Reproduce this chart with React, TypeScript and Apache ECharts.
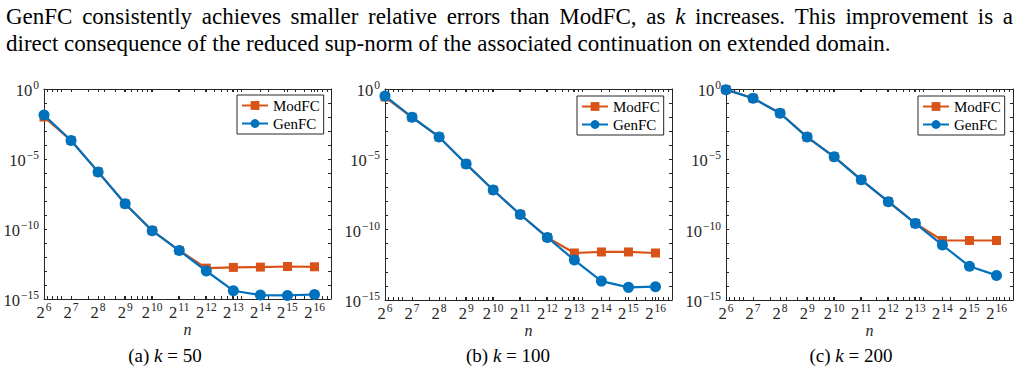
import React, { useEffect, useRef } from "react";
import * as echarts from "echarts";

// n = 2^e, e = 6..16
const exponents = [6, 7, 8, 9, 10, 11, 12, 13, 14, 15, 16];

// relative errors, k = 50
const modfcK50 = [1.0e-2, 2.1e-4, 1.2e-6, 6.3e-9, 7.6e-11, 2.9e-12, 1.6e-13, 1.8e-13, 1.9e-13, 2.1e-13, 2.0e-13];
const genfcK50 = [1.4e-2, 2.1e-4, 1.2e-6, 6.3e-9, 7.6e-11, 2.9e-12, 1.0e-13, 3.9e-15, 1.9e-15, 1.8e-15, 2.1e-15];

// relative errors, k = 100
const modfcK100 = [0.27, 9.8e-3, 3.9e-4, 4.7e-6, 6.6e-8, 1.2e-9, 2.8e-11, 2.2e-12, 2.6e-12, 2.6e-12, 2.2e-12];
const genfcK100 = [0.32, 9.8e-3, 3.9e-4, 4.7e-6, 6.6e-8, 1.2e-9, 2.8e-11, 6.9e-13, 2.2e-14, 7.9e-15, 8.9e-15];

// relative errors, k = 200
const modfcK200 = [0.9, 0.22, 1.9e-2, 3.8e-4, 1.5e-5, 3.5e-7, 9.8e-9, 2.8e-10, 1.7e-11, 1.7e-11, 1.7e-11];
const genfcK200 = [0.9, 0.22, 1.9e-2, 3.8e-4, 1.5e-5, 3.5e-7, 9.8e-9, 2.8e-10, 8.1e-12, 2.5e-13, 5.6e-14];

const panels = [
  { caption: "50", modfc: modfcK50, genfc: genfcK50, tag: "(a)" },
  { caption: "100", modfc: modfcK100, genfc: genfcK100, tag: "(b)" },
  { caption: "200", modfc: modfcK200, genfc: genfcK200, tag: "(c)" },
];

const yLabelValues = [1e-15, 1e-10, 1e-5, 1];
const yTickValues = [1e-15, 1e-14, 1e-13, 1e-12, 1e-11, 1e-10, 1e-9, 1e-8, 1e-7, 1e-6, 1e-5, 1e-4, 1e-3, 1e-2, 1e-1, 1];
const xMinorN = [70, 80, 90, 100, 200, 300, 400, 500, 600, 700, 800, 900, 1000, 2000, 3000, 4000, 5000, 6000, 7000, 8000, 9000, 10000, 20000, 30000, 40000, 50000, 60000, 70000, 80000, 90000];
const xMaxN = 100000;

const paraLine1 = ["GenFC", "consistently", "achieves", "smaller", "relative", "errors", "than", "ModFC,", "as", "k", "increases.", "This", "improvement", "is", "a"];
const paraLine2 = "direct consequence of the reduced sup-norm of the associated continuation on extended domain.";

const SERIF = '"Liberation Serif", "Times New Roman", serif';
const ORANGE = "#D95319";
const BLUE = "#0072BD";
const AXIS = "#262626";

function measure(text: string, font: string): number {
  const ctx = document.createElement("canvas").getContext("2d")!;
  ctx.font = font;
  return ctx.measureText(text).width;
}

export default function App() {
  const ref = useRef<HTMLDivElement>(null);

  useEffect(() => {
    if (!ref.current) return;
    const chart = echarts.init(ref.current, undefined, { renderer: "svg" });

    const gridBoxes = [
      { left: 44, top: 89, width: 287, height: 210 },
      { left: 385, top: 89, width: 287, height: 211 },
      { left: 726, top: 89, width: 287, height: 211 },
    ];
    const legendPos = [
      { left: 237, top: 95 },
      { left: 577, top: 96 },
      { left: 918, top: 96 },
    ];

    const xMax = Math.log2(xMaxN);
    const xTicks = [...exponents, ...xMinorN.map((n) => Math.log2(n))];

    const supRich = {
      b: { fontFamily: SERIF, fontSize: 16.5, color: AXIS, verticalAlign: "bottom", lineHeight: 20 },
      s: { fontFamily: SERIF, fontSize: 11.5, color: AXIS, verticalAlign: "top", lineHeight: 20, padding: [0, 0, 0, 1] },
    };

    const xAxes: any[] = [];
    const yAxes: any[] = [];
    const series: any[] = [];
    const legends: any[] = [];

    panels.forEach((p, i) => {
      xAxes.push({
        type: "value",
        gridIndex: i,
        position: "bottom",
        min: 6,
        max: xMax,
        axisLine: { show: true, lineStyle: { color: AXIS, width: 1 } },
        axisTick: { show: true, inside: true, length: 3, customValues: xTicks, lineStyle: { color: AXIS } },
        axisLabel: {
          customValues: exponents,
          margin: 2,
          fontSize: 16.5,
          formatter: (v: number) => `{b|2}{s|${Math.round(v)}}`,
          rich: supRich,
        },
        splitLine: { show: false },
        name: "n",
        nameLocation: "middle",
        nameGap: 22,
        nameMoveOverlap: false,
        nameTextStyle: { fontFamily: SERIF, fontStyle: "italic", fontSize: 16, color: AXIS },
      });
      xAxes.push({
        type: "value",
        gridIndex: i,
        position: "top",
        min: 6,
        max: xMax,
        axisLine: { show: true, lineStyle: { color: AXIS, width: 1 } },
        axisTick: { show: true, inside: true, length: 3, customValues: xTicks, lineStyle: { color: AXIS } },
        axisLabel: { show: false },
        splitLine: { show: false },
      });
      yAxes.push({
        type: "log",
        logBase: 10,
        gridIndex: i,
        position: "left",
        min: 1e-15,
        max: 1,
        axisLine: { show: true, lineStyle: { color: AXIS, width: 1 } },
        axisTick: { show: true, inside: true, length: 3, customValues: yTickValues, lineStyle: { color: AXIS } },
        axisLabel: {
          customValues: yLabelValues,
          margin: 5,
          fontSize: 16.5,
          formatter: (v: number) => {
            const e = Math.round(Math.log10(v));
            return e === 0 ? `{b|10}{s|0}` : `{b|10}{s|\u2212${-e}}`;
          },
          rich: supRich,
        },
        splitLine: { show: false },
      });
      yAxes.push({
        type: "log",
        logBase: 10,
        gridIndex: i,
        position: "right",
        min: 1e-15,
        max: 1,
        axisLine: { show: true, lineStyle: { color: AXIS, width: 1 } },
        axisTick: { show: true, inside: true, length: 3, customValues: yTickValues, lineStyle: { color: AXIS } },
        axisLabel: { show: false },
        splitLine: { show: false },
      });

      series.push({
        name: "ModFC",
        type: "line",
        xAxisIndex: 2 * i,
        yAxisIndex: 2 * i,
        data: exponents.map((e, j) => [e, p.modfc[j]]),
        symbol: "rect",
        symbolSize: 9,
        lineStyle: { color: ORANGE, width: 2.2 },
        itemStyle: { color: ORANGE },
        z: 2,
      });
      series.push({
        name: "GenFC",
        type: "line",
        xAxisIndex: 2 * i,
        yAxisIndex: 2 * i,
        data: exponents.map((e, j) => [e, p.genfc[j]]),
        symbol: "circle",
        symbolSize: 11,
        lineStyle: { color: BLUE, width: 2.2 },
        itemStyle: { color: BLUE },
        z: 3,
      });

      legends.push({
        data: ["ModFC", "GenFC"],
        orient: "vertical",
        left: legendPos[i].left,
        top: legendPos[i].top,
        padding: [3, 4, 3, 4],
        itemGap: 3,
        itemWidth: 26,
        itemHeight: 11,
        borderColor: AXIS,
        borderWidth: 1,
        backgroundColor: "#fff",
        selectedMode: false,
        textStyle: { fontFamily: SERIF, fontSize: 15, color: "#000", padding: [0, 0, 0, 0] },
      });
    });

    // paragraph above the figure
    let paraSize = 21;
    const natural = measure(paraLine2, `${paraSize}px ${SERIF}`);
    paraSize = Math.max(19, Math.min(23, (paraSize * 906) / natural));
    const font = `${paraSize}px ${SERIF}`;
    const italicFont = `italic ${paraSize}px ${SERIF}`;
    const widths = paraLine1.map((w) => measure(w, w === "k" ? italicFont : font));
    const total = widths.reduce((a, b) => a + b, 0);
    const gap = (1013 - 6 - total) / (paraLine1.length - 1);
    const graphics: any[] = [];
    let cx = 6;
    paraLine1.forEach((w, j) => {
      graphics.push({
        type: "text",
        x: cx,
        y: 16,
        style: {
          text: w,
          font: w === "k" ? italicFont : font,
          fill: "#000",
          align: "left",
          verticalAlign: "middle",
        },
      });
      cx += widths[j] + gap;
    });
    graphics.push({
      type: "text",
      x: 6,
      y: 43,
      style: { text: paraLine2, font, fill: "#000", align: "left", verticalAlign: "middle" },
    });

    // sub-figure captions
    const capCenters = [165, 508, 851];
    panels.forEach((p, i) => {
      graphics.push({
        type: "text",
        x: capCenters[i],
        y: 355,
        style: {
          text: `${p.tag} {i|k} = ${p.caption}`,
          font: `19px ${SERIF}`,
          fill: "#000",
          align: "center",
          verticalAlign: "middle",
          rich: { i: { fontFamily: SERIF, fontSize: 19, fontStyle: "italic", fill: "#000" } },
        },
      });
    });

    chart.setOption({
      animation: false,
      backgroundColor: "#fff",
      grid: gridBoxes.map((g) => ({ ...g, containLabel: false })),
      xAxis: xAxes,
      yAxis: yAxes,
      legend: legends,
      series,
      graphic: graphics,
    });

    return () => chart.dispose();
  }, []);

  return (
    <div
      ref={ref}
      style={{ position: "absolute", left: 0, top: 0, width: 1019, height: 392, background: "#fff" }}
    />
  );
}
